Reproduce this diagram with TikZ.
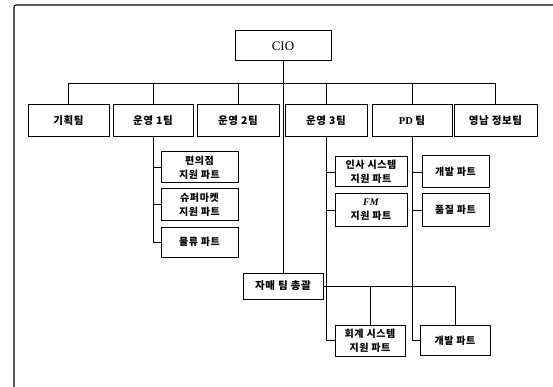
\documentclass[tikz,border=0pt]{standalone}
\usepackage{fontspec}
\setmainfont{Liberation Serif}
\newfontfamily\kr{Noto Sans CJK KR}[LetterSpace=6]
\begin{document}
\begin{tikzpicture}[x=1pt,y=-1pt,
  box/.style={draw, line width=1pt, inner sep=0pt, align=center, font=\kr\bfseries\fontsize{10.5}{12}\selectfont},
  team/.style={box, minimum height=32pt},
  sub/.style={box, font=\kr\bfseries\fontsize{10}{14}\selectfont},
  conn/.style={line width=0.8pt}]
\useasboundingbox (0,0) rectangle (553,387);
\draw[line width=1.1pt, rounded corners=2pt] (553,5) -- (14,5) -- (14,387);

\node[box, minimum width=96pt, minimum height=30pt, font=\rmfamily\fontsize{13}{15}\selectfont] (cio) at (283,46) {CIO};

\node[team, minimum width=81pt] (t1) at (68.5,121) {기획팀};
\node[team, minimum width=80pt] (t2) at (153,121) {운영 1팀};
\node[team, minimum width=82pt] (t3) at (238,121) {운영 2팀};
\node[team, minimum width=82pt] (t4) at (326,121) {운영 3팀};
\node[team, minimum width=80pt] (t5) at (412,121) {\rmfamily PD \kr 팀};
\node[team, minimum width=83pt] (t6) at (495.5,121) {영남 정보팀};

\node[sub, minimum width=77pt, minimum height=31pt] (s11) at (199.5,167.5) {편의점\\지원 파트};
\node[sub, minimum width=77pt, minimum height=31pt] (s12) at (199.5,204.5) {슈퍼마켓\\지원 파트};
\node[sub, minimum width=77pt, minimum height=30pt] (s13) at (199.5,242) {물류 파트};

\node[sub, minimum width=72pt, minimum height=30pt] (s31) at (371,172) {인사 시스템\\지원 파트};
\node[sub, minimum width=72pt, minimum height=32pt] (s32) at (371,210) {{\rmfamily\itshape FM}\\지원 파트};

\node[sub, minimum width=67pt, minimum height=32pt] (s51) at (455.5,172) {개발 파트};
\node[sub, minimum width=67pt, minimum height=32pt] (s52) at (455.5,210) {품질 파트};

\node[box, minimum width=80pt, minimum height=26pt] (ja) at (283,286) {자매 팀 총괄};
\node[sub, minimum width=70pt, minimum height=31pt] (acc) at (370,340.5) {회계 시스템\\지원 파트};
\node[sub, minimum width=70pt, minimum height=30pt] (dev) at (455,340.5) {개발 파트};

\coordinate (bl) at (69,83);
\coordinate (br) at (495,83);
\draw[conn] (cio.south) -- (ja.north);
\draw[conn] (bl) -- (br);
\foreach \t in {t1,t2,t3,t4,t5,t6} \draw[conn] (\t.north |- bl) -- (\t.north);

\draw[conn] (t2.south) |- (s13.west);
\draw[conn] (t2.south |- s11.west) -- (s11.west);
\draw[conn] (t2.south |- s12.west) -- (s12.west);

\draw[conn] (t4.south) |- (acc.west);
\draw[conn] (t4.south |- s31.west) -- (s31.west);
\draw[conn] (t4.south |- s32.west) -- (s32.west);

\draw[conn] (t5.south) |- (dev.west);
\draw[conn] (t5.south |- s51.west) -- (s51.west);
\draw[conn] (t5.south |- s52.west) -- (s52.west);

\draw[conn] (ja.east) -| (dev.north);
\draw[conn] (acc.north |- ja.east) -- (acc.north);
\end{tikzpicture}
\end{document}
